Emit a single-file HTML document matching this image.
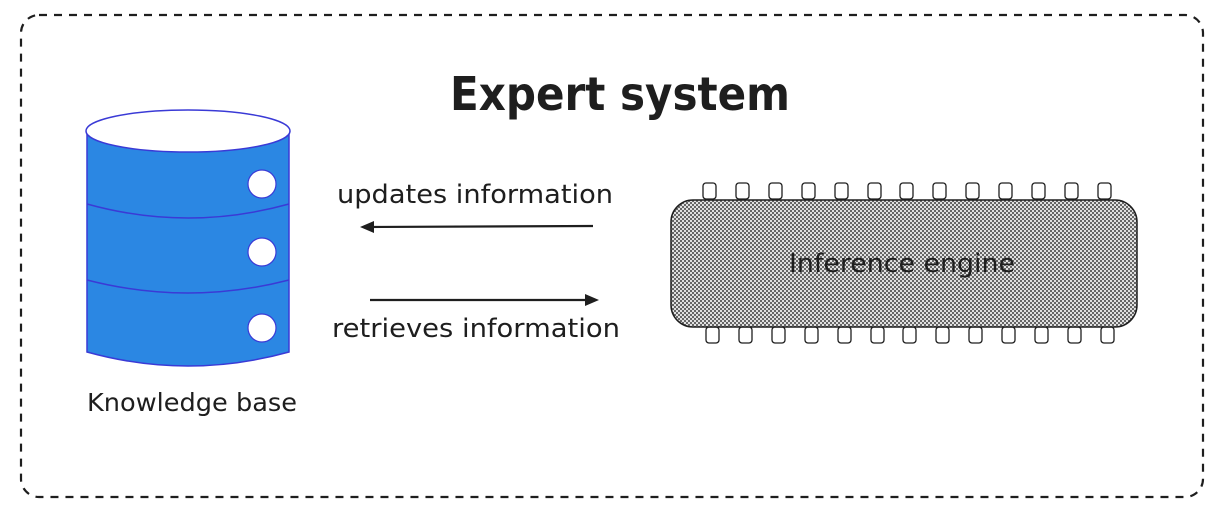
<!DOCTYPE html>
<html><head><style>body{margin:0;background:#fff}svg{display:block}text{font-family:"Comic Sans MS","DejaVu Sans","Liberation Sans",sans-serif;fill:#1e1e1e}</style></head>
<body>
<svg width="1225" height="512" viewBox="0 0 1225 512">
<defs>
<pattern id="h" width="4" height="4" patternUnits="userSpaceOnUse">
<rect width="4" height="4" fill="#e0e0e0"/><rect width="2" height="2" fill="#666"/><rect x="2" y="2" width="2" height="2" fill="#666"/>
</pattern>
</defs>
<rect x="21" y="15" width="1182" height="482" rx="18" fill="none" stroke="#1e1e1e" stroke-width="2.2" stroke-dasharray="8 7"/>
<text x="620" y="110" font-size="46" font-weight="bold" text-anchor="middle" textLength="340" lengthAdjust="spacingAndGlyphs">Expert system</text>
<!-- cylinder -->
<path d="M87 131 L87 352 Q188 380 289 352 L289 131 Z" fill="#2b87e3" stroke="#3a3ad6" stroke-width="1.5"/>
<ellipse cx="188" cy="131" rx="102" ry="21" fill="#fff" stroke="#3a3ad6" stroke-width="1.5"/>
<path d="M87 204 Q188 232 289 204" fill="none" stroke="#3a3ad6" stroke-width="1.5"/>
<path d="M87 280 Q188 306 289 280" fill="none" stroke="#3a3ad6" stroke-width="1.5"/>
<circle cx="262" cy="184" r="14" fill="#fff" stroke="#3a3ad6" stroke-width="1.2"/>
<circle cx="262" cy="252" r="14" fill="#fff" stroke="#3a3ad6" stroke-width="1.2"/>
<circle cx="262" cy="328" r="14" fill="#fff" stroke="#3a3ad6" stroke-width="1.2"/>
<text x="192" y="411" font-size="25" text-anchor="middle" textLength="210" lengthAdjust="spacingAndGlyphs">Knowledge base</text>
<!-- arrows -->
<text x="475" y="203" font-size="26" text-anchor="middle" textLength="276" lengthAdjust="spacingAndGlyphs">updates information</text>
<line x1="593" y1="226" x2="368" y2="227" stroke="#1e1e1e" stroke-width="2.2"/>
<path d="M360 227 L374 221 L374 233 Z" fill="#1e1e1e"/>
<line x1="370" y1="300" x2="590" y2="300" stroke="#1e1e1e" stroke-width="2.2"/>
<path d="M599 300 L585 294 L585 306 Z" fill="#1e1e1e"/>
<text x="476" y="337" font-size="26" text-anchor="middle" textLength="288" lengthAdjust="spacingAndGlyphs">retrieves information</text>
<!-- chip -->
<g fill="#fff" stroke="#1e1e1e" stroke-width="1.3">
<rect x="703" y="183" width="13" height="16" rx="3"/><rect x="736" y="183" width="13" height="16" rx="3"/><rect x="769" y="183" width="13" height="16" rx="3"/><rect x="802" y="183" width="13" height="16" rx="3"/><rect x="835" y="183" width="13" height="16" rx="3"/><rect x="868" y="183" width="13" height="16" rx="3"/><rect x="900" y="183" width="13" height="16" rx="3"/><rect x="933" y="183" width="13" height="16" rx="3"/><rect x="966" y="183" width="13" height="16" rx="3"/><rect x="999" y="183" width="13" height="16" rx="3"/><rect x="1032" y="183" width="13" height="16" rx="3"/><rect x="1065" y="183" width="13" height="16" rx="3"/><rect x="1098" y="183" width="13" height="16" rx="3"/>
<rect x="706" y="327" width="13" height="16" rx="3"/><rect x="739" y="327" width="13" height="16" rx="3"/><rect x="772" y="327" width="13" height="16" rx="3"/><rect x="805" y="327" width="13" height="16" rx="3"/><rect x="838" y="327" width="13" height="16" rx="3"/><rect x="871" y="327" width="13" height="16" rx="3"/><rect x="903" y="327" width="13" height="16" rx="3"/><rect x="936" y="327" width="13" height="16" rx="3"/><rect x="969" y="327" width="13" height="16" rx="3"/><rect x="1002" y="327" width="13" height="16" rx="3"/><rect x="1035" y="327" width="13" height="16" rx="3"/><rect x="1068" y="327" width="13" height="16" rx="3"/><rect x="1101" y="327" width="13" height="16" rx="3"/>
</g>
<rect x="671" y="200" width="466" height="127" rx="22" fill="url(#h)" stroke="#1e1e1e" stroke-width="1.5"/>
<text x="902" y="272" font-size="26" text-anchor="middle" textLength="226" lengthAdjust="spacingAndGlyphs">Inference engine</text>
</svg>
</body></html>
